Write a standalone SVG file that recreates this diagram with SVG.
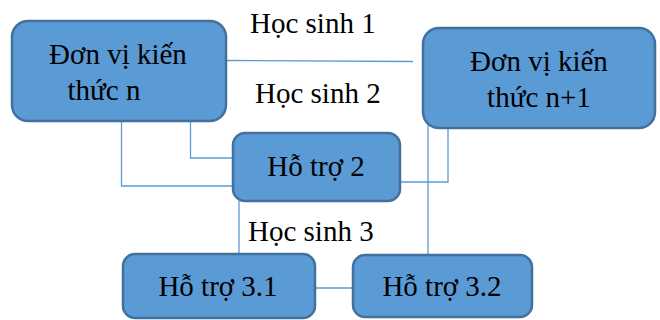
<svg xmlns="http://www.w3.org/2000/svg" width="660" height="320" viewBox="0 0 660 320">
<style>
.box{fill:#5b9bd5;stroke:#41719c;stroke-width:2.5}
.t{font-size:29px;fill:#000}
.c{fill:none;stroke:#5b9bd5;stroke-width:1.3}
</style>
<rect width="660" height="320" fill="#fff"/>
<g id="connectors">
<path class="c" d="M226 60.5L413 61.5"/>
<path class="c" d="M121.5 121V186H233"/>
<path class="c" d="M190.5 121V158H233"/>
<path class="c" d="M428 123V255"/>
<path class="c" d="M448 128V182H400"/>
<path class="c" d="M239 201V254"/>
<path class="c" d="M315 288H353"/>
</g>
<g font-family="Liberation Serif, serif">
<g id="label1"><text class="t" x="250" y="33">Học sinh 1</text></g>
<g id="label2"><text class="t" x="255" y="103">Học sinh 2</text></g>
<g id="label3"><text class="t" x="248" y="241">Học sinh 3</text></g>
<g id="n1">
<rect class="box" x="12" y="21" width="214" height="100" rx="16"/>
<text class="t" x="118" y="64" text-anchor="middle">Đơn vị kiến</text>
<text class="t" x="104" y="100" text-anchor="middle">thức n</text>
</g>
<g id="n2">
<rect class="box" x="423" y="28" width="232" height="100" rx="16"/>
<text class="t" x="539" y="71" text-anchor="middle">Đơn vị kiến</text>
<text class="t" x="539" y="107" text-anchor="middle">thức n+1</text>
</g>
<g id="h2">
<rect class="box" x="233" y="133" width="167" height="68" rx="12"/>
<text class="t" x="316" y="176" text-anchor="middle">Hỗ trợ 2</text>
</g>
<g id="h31">
<rect class="box" x="123" y="254" width="192" height="64" rx="12"/>
<text class="t" x="218" y="296" text-anchor="middle">Hỗ trợ 3.1</text>
</g>
<g id="h32">
<rect class="box" x="353" y="255" width="179" height="62" rx="12"/>
<text class="t" x="442" y="296" text-anchor="middle">Hỗ trợ 3.2</text>
</g>
</g>
</svg>
